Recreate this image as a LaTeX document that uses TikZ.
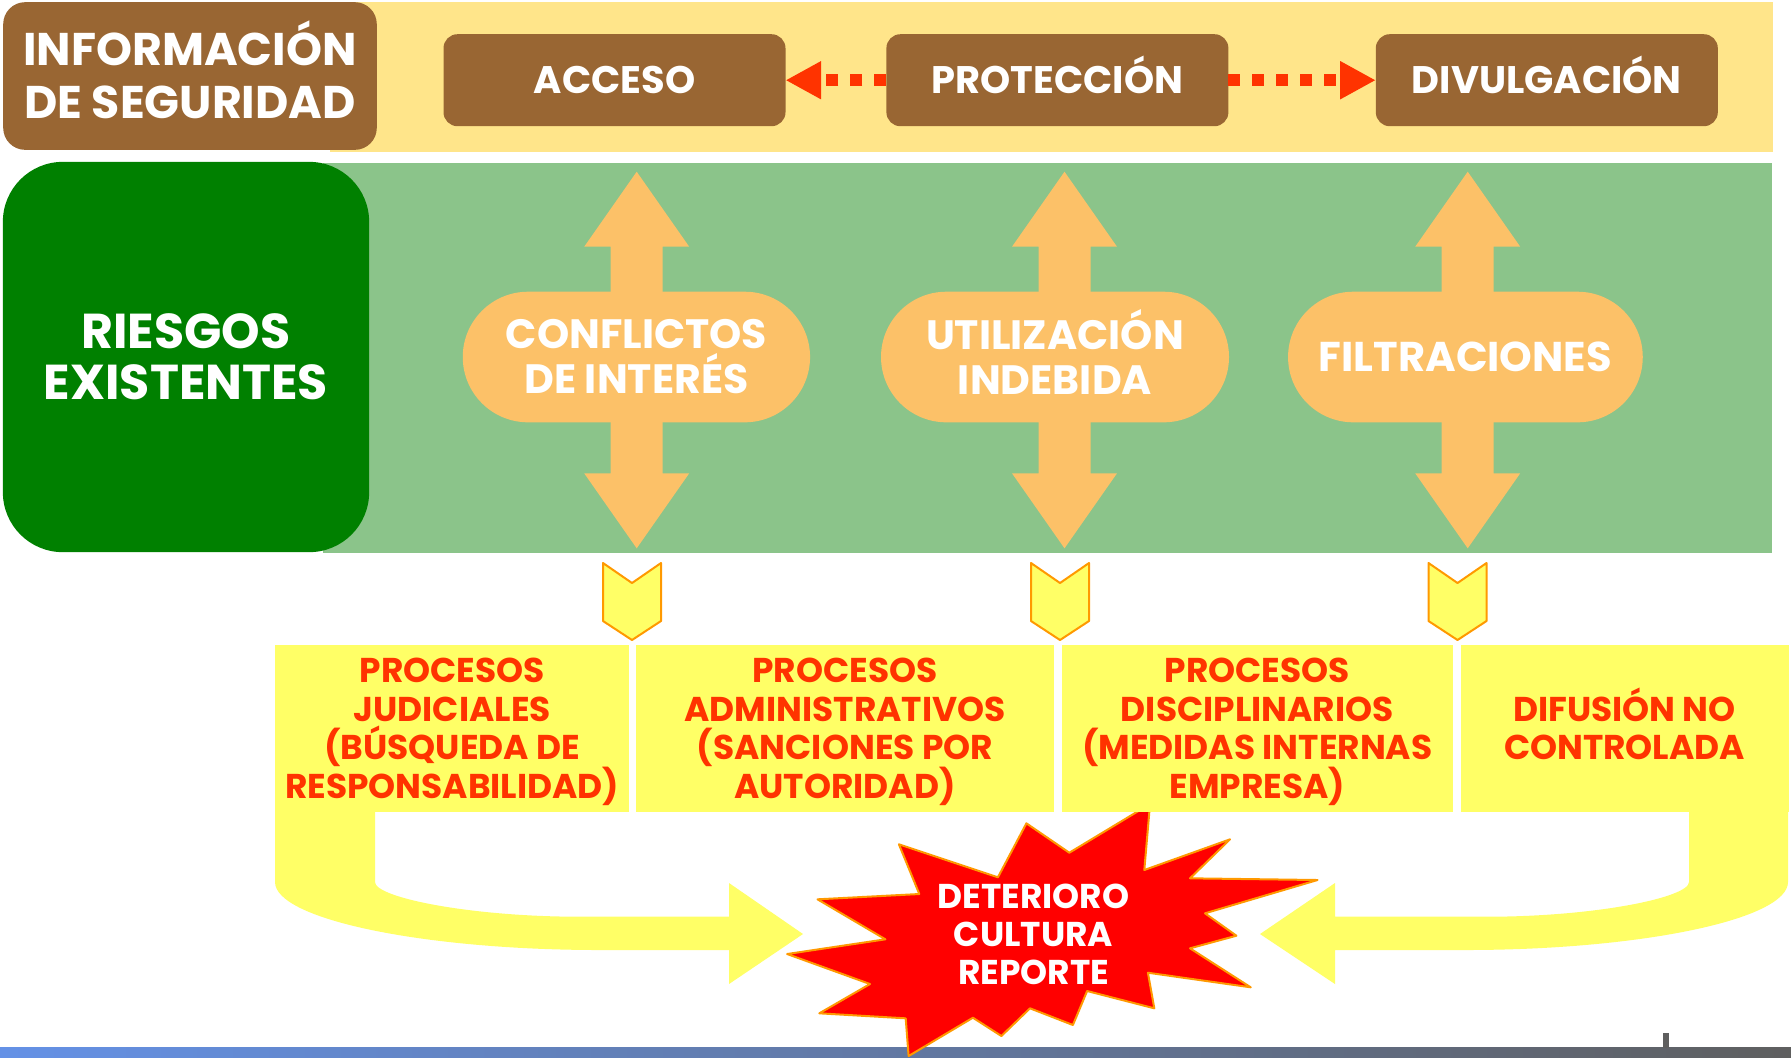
\documentclass[tikz,border=0pt]{standalone}
\usepackage{fontspec}
\setmainfont{Poppins}
\usetikzlibrary{arrows.meta,shapes.misc}
\definecolor{bandyel}{RGB}{255,229,138}
\definecolor{brownbox}{RGB}{153,102,51}
\definecolor{lgreen}{RGB}{139,196,138}
\definecolor{dgreen}{RGB}{0,128,0}
\definecolor{pillor}{RGB}{252,193,104}
\definecolor{yelbox}{RGB}{255,255,102}
\definecolor{redtxt}{RGB}{255,51,0}
\definecolor{starred}{RGB}{255,0,0}
\definecolor{staror}{RGB}{255,153,0}
\definecolor{barblue}{RGB}{100,145,230}
\definecolor{bargrey}{RGB}{95,95,95}
\tikzset{
  every node/.style={inner sep=0pt, outer sep=0pt},
  infobox/.style={fill=brownbox, rounded corners=11pt, minimum width=186.8pt, minimum height=73.85pt, text=white, align=center, font=\fontsize{22.9}{26.2}\selectfont\bfseries},
  topbox/.style={fill=brownbox, rounded corners=7pt, minimum width=171pt, minimum height=46pt, text=white, font=\fontsize{19.2}{22}\selectfont\bfseries},
  dotarr/.style={draw=redtxt, line width=6pt, dash pattern=on 6pt off 6pt, -{Triangle[length=17.8pt,width=17.8pt]}},
  riskbox/.style={fill=dgreen, rounded corners=30pt, minimum width=183.15pt, minimum height=195.15pt, text=white, align=center, font=\fontsize{24.5}{25.5}\selectfont\bfseries},
  pill/.style={rounded rectangle, fill=pillor, minimum height=65.3pt, text=white, align=center, font=\fontsize{20.5}{22.5}\selectfont\bfseries},
  dblarrow/.style={fill=pillor},
  chev/.style={fill=yelbox, draw=staror, line width=1pt, line join=round},
  procbox/.style={fill=yelbox, minimum height=83.35pt, text=redtxt, align=center, font=\fontsize{17.2}{19.25}\selectfont\bfseries},
  uarrow/.style={fill=yelbox},
  burst/.style={fill=starred, draw=staror, line width=1pt, line join=round},
  bursttext/.style={text=white, align=center, font=\fontsize{17.2}{19}\selectfont\bfseries},
}
\begin{document}
\begin{tikzpicture}[x=0.5pt,y=-0.5pt]
\useasboundingbox (0,0) rectangle (1791,1057);
\fill[white] (0,0) rectangle (1791,1057);
% bottom bar
\shade[left color=barblue, right color=bargrey] (0,1047.5) rectangle (1791,1057);
\fill[bargrey] (1663.3,1033) rectangle (1669.3,1048);
% top band
\fill[bandyel] (330,2) rectangle (1773,152);
\node[infobox] (info) at (190,76) {INFORMACI\smash{Ó}N\\DE SEGURIDAD};
\node[topbox] (acc) at (614.5,80.2) {ACCESO};
\node[topbox] (prot) at (1057.4,80.2) {PROTECCI\smash{Ó}N};
\node[topbox] (div) at (1546.8,80.2) {DIVULGACI\smash{Ó}N};
\draw[dotarr] (prot.west) -- (acc.east);
\draw[dotarr] (prot.east) -- (div.west);
% green band
\fill[lgreen] (323,162.7) rectangle (1772,553);
\node[riskbox] (riesgos) at (186,357) {RIESGOS\\EXISTENTES};
% double arrows
\foreach \cx in {636.7,1064.5,1467.7}{
  \fill[dblarrow] (\cx,171.7) -- ({\cx+52.5},246.7) -- ({\cx+26},246.7) -- ({\cx+26},473.3)
    -- ({\cx+52.5},473.3) -- (\cx,548.3) -- ({\cx-52.5},473.3) -- ({\cx-26},473.3)
    -- ({\cx-26},246.7) -- ({\cx-52.5},246.7) -- cycle;
}
\node[pill, minimum width=173.65pt] (confl) at (636.4,357) {CONFLICTOS\\DE INTERÉS};
\node[pill, minimum width=174pt] (util) at (1055,357) {UTILIZACI\smash{Ó}N\\INDEBIDA};
\node[pill, minimum width=177.35pt, font=\fontsize{20.8}{23}\selectfont\bfseries] (filt) at (1465.4,357) {FILTRACIONES};
% chevrons
\foreach \cx in {632,1060,1457.5}{
  \filldraw[chev] ({\cx-29},563) -- (\cx,583) -- ({\cx+29},563) -- ({\cx+29},621) -- (\cx,640) -- ({\cx-29},621) -- cycle;
}
% U-turn arrows
\fill[uarrow] (275,805) -- (275,882) .. controls (275,919.5) and (425,950) .. (600,950) -- (729,950) -- (729,984) -- (803,934) -- (729,883)
  -- (729,916.7) -- (580,916.7) .. controls (470,916.7) and (375,897.5) .. (375,882) -- (375,805) -- cycle;
\fill[uarrow] (1788,805) -- (1788,882) .. controls (1788,919.5) and (1640,950) .. (1465,950) -- (1335,950) -- (1335,984) -- (1260,934) -- (1335,883)
  -- (1335,916.7) -- (1487,916.7) .. controls (1595,916.7) and (1689,897.5) .. (1689,882) -- (1689,805) -- cycle;
% burst
\filldraw[burst] (787.1,954) -- (885.4,939.3) -- (817.5,899.3) -- (919.3,894) -- (898.9,844.3) -- (997.9,877.3)
  -- (1026.4,823.3) -- (1069.3,852.7) -- (1150,804) -- (1144.3,870) -- (1230,839.3) -- (1190,878.3)
  -- (1317.5,880) -- (1205,913.3) -- (1236.4,935.7) -- (1190,948.3) -- (1250.7,987.3) -- (1147.9,972.7)
  -- (1154.3,1008.3) -- (1087.1,991) -- (1072.9,1025) -- (1030,1008.3) -- (1001.4,1036) -- (972.9,1017.7)
  -- (908.6,1056) -- (905.7,1018.3) -- (819.3,1013.3) -- (870,984) -- cycle;
% bottom boxes
\node[procbox, minimum width=177.25pt] (judic) at (452.2,728.3) {PROCESOS\\JUDICIALES\\(BÚSQUEDA DE\\RESPONSABILIDAD\smash{)}};
\node[procbox, minimum width=209pt] (admin) at (845,728.3) {PROCESOS\\ADMINISTRATIVOS\\(SANCIONES POR\\AUTORIDAD\smash{)}};
\node[procbox, minimum width=195.75pt] (disc) at (1257.3,728.3) {PROCESOS\\DISCIPLINARIOS\\(MEDIDAS INTERNAS\\EMPRESA\smash{)}};
\node[procbox, minimum width=164pt] (difus) at (1624.5,728.3) {DIFUSI\smash{Ó}N NO\\CONTROLADA};
\node[bursttext] (deterioro) at (1033.6,934.8) {DETERIORO\\CULTURA\\REPORTE};
\end{tikzpicture}
\end{document}
